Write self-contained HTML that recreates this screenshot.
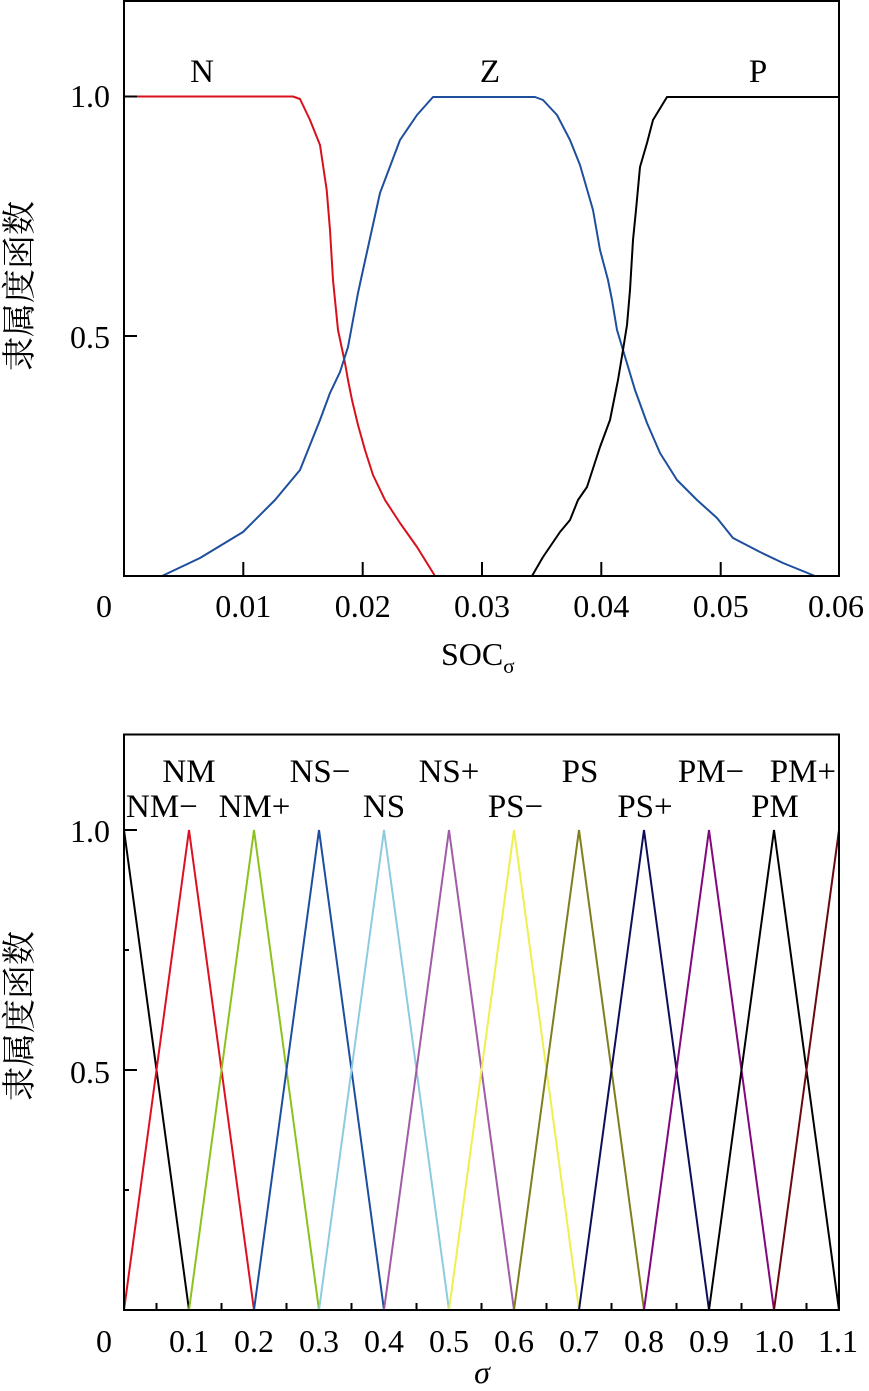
<!DOCTYPE html>
<html><head><meta charset="utf-8"><style>
html,body{margin:0;padding:0;background:#fff;}
svg{display:block;}
text{font-family:"Liberation Serif","Noto Serif CJK SC",serif;fill:#000;}
.cjk{font-family:"Noto Serif CJK SC","Noto Sans CJK SC",serif;font-size:34px;}
.tk{font-size:32px;}
.lb{font-size:33px;}
</style></head><body>
<svg width="869" height="1391" viewBox="0 0 869 1391" xmlns="http://www.w3.org/2000/svg">
<!-- ===== Top chart ===== -->
<g fill="none" stroke-linejoin="round" stroke-linecap="round" stroke-width="2">
<!-- N red -->
<polyline stroke="#d8101c" points="124,96.5 293,96.5 300,99 310,120 320,145 326.7,190 330,230 333,280 338,330 345,363 348,380 352,400 358,425 365,450 373,475 385,500 400,523 417,547 435,576"/>
<!-- Z blue -->
<polyline stroke="#1d4f9c" points="162,576 200,558 243,532 275,500 300,470 320,420 330,393 340,372 348,347 358,293 363,270 380,193 400,140 417,115 433,97 535,97 543,100 557,115 570,140 580,165 593,210 600,250 608,280 612,300 617,330 623,350 635,390 647,423 660,453 677,480 697,500 717,518 733,538 760,552 783,563 815,576"/>
<!-- P black -->
<polyline stroke="#000" points="532,576 543,557 560,532 570,520 578,500 587,487 600,447 610,420 618,380 623,350 627,325 630,290 633,240 636,210 640,167 647,143 653,120 667,97 839,97"/>
</g>
<!-- frame -->
<rect x="124" y="1" width="715" height="575" fill="none" stroke="#000" stroke-width="2"/>
<g stroke="#000" stroke-width="2">
<line x1="243.3" y1="576" x2="243.3" y2="562"/>
<line x1="362.7" y1="576" x2="362.7" y2="562"/>
<line x1="482" y1="576" x2="482" y2="562"/>
<line x1="601.3" y1="576" x2="601.3" y2="562"/>
<line x1="720.7" y1="576" x2="720.7" y2="562"/>
<line x1="124" y1="336" x2="137" y2="336"/>
<line x1="124" y1="96.5" x2="137" y2="96.5"/>
</g>
<text class="lb" x="202" y="82" text-anchor="middle">N</text>
<text class="lb" x="490" y="82" text-anchor="middle">Z</text>
<text class="lb" x="758" y="82" text-anchor="middle">P</text>
<text class="tk" x="110" y="107" text-anchor="end">1.0</text>
<text class="tk" x="110" y="348" text-anchor="end">0.5</text>
<g class="tk" text-anchor="middle">
<text x="104" y="617">0</text>
<text x="243.3" y="617">0.01</text>
<text x="362.7" y="617">0.02</text>
<text x="482" y="617">0.03</text>
<text x="601.3" y="617">0.04</text>
<text x="720.7" y="617">0.05</text>
<text x="836" y="617">0.06</text>
</g>
<text class="tk" x="441" y="665">SOC<tspan font-size="21" dy="8">σ</tspan></text>
<text class="cjk" transform="translate(31,286) rotate(-90)" text-anchor="middle">隶属度函数</text>

<!-- ===== Bottom chart ===== -->
<g fill="none" stroke-width="2" stroke-linejoin="miter">
<polyline stroke="#000000" points="124,830 189,1310"/>
<polyline stroke="#dc1020" points="124,1310 189,830 254,1310"/>
<polyline stroke="#8cc21e" points="189,1310 254,830 319,1310"/>
<polyline stroke="#1c4ea0" points="254,1310 319,830 384,1310"/>
<polyline stroke="#8ccbe0" points="319,1310 384,830 449,1310"/>
<polyline stroke="#a05ca6" points="384,1310 449,830 514,1310"/>
<polyline stroke="#eef050" points="449,1310 514,830 579,1310"/>
<polyline stroke="#7e7e1c" points="514,1310 579,830 644,1310"/>
<polyline stroke="#0e0e5a" points="579,1310 644,830 709,1310"/>
<polyline stroke="#82087e" points="644,1310 709,830 774,1310"/>
<polyline stroke="#000000" points="709,1310 774,830 839,1310"/>
<polyline stroke="#6c0810" points="774,1310 839,830"/>
</g>
<rect x="124" y="734.5" width="715" height="575.5" fill="none" stroke="#000" stroke-width="2"/>
<g stroke="#000" stroke-width="2">
<line x1="156.5" y1="1310" x2="156.5" y2="1303"/>
<line x1="221.5" y1="1310" x2="221.5" y2="1303"/>
<line x1="286.5" y1="1310" x2="286.5" y2="1303"/>
<line x1="351.5" y1="1310" x2="351.5" y2="1303"/>
<line x1="416.5" y1="1310" x2="416.5" y2="1303"/>
<line x1="481.5" y1="1310" x2="481.5" y2="1303"/>
<line x1="546.5" y1="1310" x2="546.5" y2="1303"/>
<line x1="611.5" y1="1310" x2="611.5" y2="1303"/>
<line x1="676.5" y1="1310" x2="676.5" y2="1303"/>
<line x1="741.5" y1="1310" x2="741.5" y2="1303"/>
<line x1="806.5" y1="1310" x2="806.5" y2="1303"/>
<line x1="124" y1="830" x2="137" y2="830"/>
<line x1="124" y1="1070" x2="137" y2="1070"/>
<line x1="124" y1="950" x2="129" y2="950"/>
<line x1="124" y1="1190" x2="129" y2="1190"/>
</g>
<g class="lb" text-anchor="middle">
<text x="126" y="817" text-anchor="start">NM−</text>
<text x="189" y="782">NM</text>
<text x="254.5" y="817">NM+</text>
<text x="320" y="782">NS−</text>
<text x="384" y="817">NS</text>
<text x="449" y="782">NS+</text>
<text x="515.5" y="817">PS−</text>
<text x="580" y="782">PS</text>
<text x="645" y="817">PS+</text>
<text x="711" y="782">PM−</text>
<text x="775" y="817">PM</text>
<text x="836" y="782" text-anchor="end">PM+</text>
</g>
<text class="tk" x="110" y="842" text-anchor="end">1.0</text>
<text class="tk" x="110" y="1083" text-anchor="end">0.5</text>
<g class="tk" text-anchor="middle">
<text x="104" y="1352">0</text>
<text x="189" y="1352">0.1</text>
<text x="254" y="1352">0.2</text>
<text x="319" y="1352">0.3</text>
<text x="384" y="1352">0.4</text>
<text x="449" y="1352">0.5</text>
<text x="514" y="1352">0.6</text>
<text x="579" y="1352">0.7</text>
<text x="644" y="1352">0.8</text>
<text x="709" y="1352">0.9</text>
<text x="774" y="1352">1.0</text>
<text x="838" y="1352">1.1</text>
</g>
<text class="tk" x="482" y="1383" text-anchor="middle" font-style="italic">σ</text>
<text class="cjk" transform="translate(31,1016) rotate(-90)" text-anchor="middle">隶属度函数</text>
</svg>
</body></html>
